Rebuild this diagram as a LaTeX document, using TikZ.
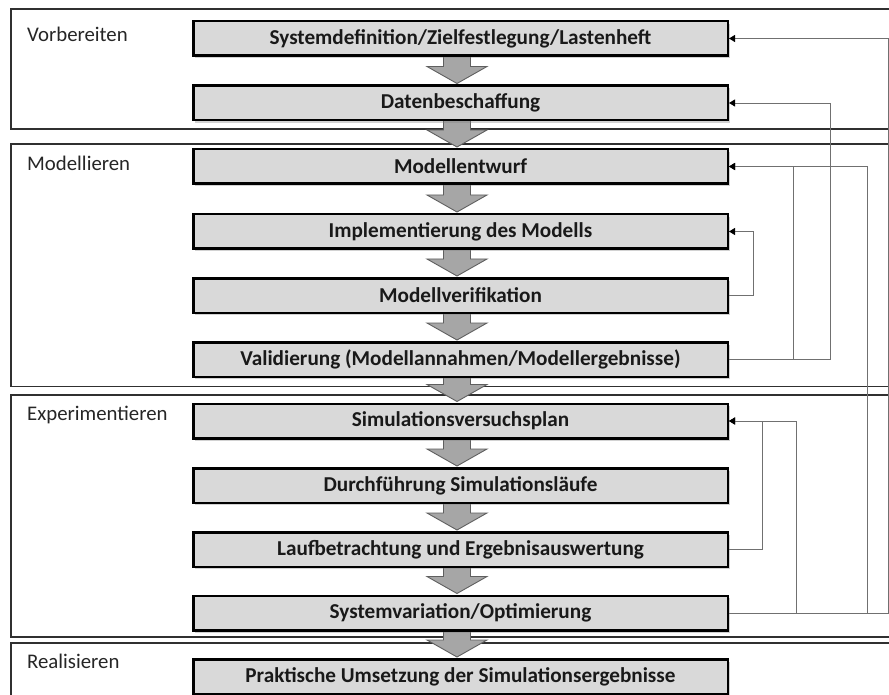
\documentclass[tikz,border=0pt]{standalone}
\usepackage{fontspec}
\setmainfont{Carlito}
\usetikzlibrary{shadows,arrows.meta,calc}
\definecolor{boxfill}{HTML}{D9D9D9}
\definecolor{arrfill}{HTML}{A6A6A6}
\definecolor{arrdraw}{HTML}{5F5F5F}
\definecolor{fbline}{HTML}{707070}
\definecolor{grpline}{HTML}{303030}
\pgfdeclarelayer{background}
\pgfsetlayers{background,main}
\newcommand\blockarr[2]{%
  \path[blk] let \p1=(#1.south), \p2=(#2.north) in
    ({\x1-17pt},{\y1+1pt}) -- ({\x1-17pt},{\y2+18pt}) -- ({\x1-33.5pt},{\y2+18pt}) --
    ({\x1-3.5pt},{\y2+1pt}) -- ({\x1+26.5pt},{\y2+18pt}) -- ({\x1+10pt},{\y2+18pt}) --
    ({\x1+10pt},{\y1+1pt}) -- cycle;}
\begin{document}
\begin{tikzpicture}[x=1pt,y=-1pt,
  stepbox/.style={draw=black, line width=2.5pt, fill=boxfill, minimum width=534.5pt,
    minimum height=34.5pt, inner sep=0pt, font=\fontsize{21.2}{24}\selectfont\bfseries,
    text=black!90, drop shadow={shadow xshift=2pt, shadow yshift=-2.5pt, opacity=0.35}},
  grp/.style={draw=grpline, line width=1.3pt},
  glabel/.style={anchor=base west, inner sep=0pt, font=\fontsize{20.8}{24}\selectfont, text=black!85},
  fb/.style={draw=fbline, line width=0.9pt},
  fbarrow/.style={fb, -{Triangle[length=6pt,width=7pt,color=black]}},
  blk/.style={fill=arrfill, draw=arrdraw, line width=0.9pt}]

\useasboundingbox (0,0) rectangle (889,695);

% process steps
\node[stepbox] (b1) at (460.5,38.5) {Systemdefinition/Zielfestlegung/Lastenheft};
\node[stepbox] (b2) at (460.5,103) {Datenbeschaffung};
\node[stepbox] (b3) at (460.5,166.5) {Modellentwurf};
\node[stepbox] (b4) at (460.5,231.5) {Implementierung des Modells};
\node[stepbox] (b5) at (460.5,295.5) {Modellverifikation};
\node[stepbox] (b6) at (460.5,359.5) {Validierung (Modellannahmen/Modellergebnisse)};
\node[stepbox] (b7) at (460.5,421) {Simulationsversuchsplan};
\node[stepbox] (b8) at (460.5,485.5) {Durchführung Simulationsläufe};
\node[stepbox] (b9) at (460.5,549.5) {Laufbetrachtung und Ergebnisauswertung};
\node[stepbox] (b10) at (460.5,613) {Systemvariation/Optimierung};
\node[stepbox] (b11) at (460.5,676.5) {Praktische Umsetzung der Simulationsergebnisse};

% group labels
\node[glabel] (l1) at (27,42) {Vorbereiten};
\node[glabel] (l2) at (27,171) {Modellieren};
\node[glabel] (l3) at (27,420) {Experimentieren};
\node[glabel] (l4) at (27,668) {Realisieren};

\begin{pgfonlayer}{background}
  \fill[white] (0,0) rectangle (889,695);
  \draw[grp] (890,9) -- (11,9) -- (11,129) -- (890,129);
  \draw[grp] (890,144) -- (11,144) -- (11,386.5) -- (890,386.5);
  \draw[grp] (890,395) -- (11,395) -- (11,637) -- (890,637);
  \draw[grp] (890,643) -- (11,643) -- (11,696);
  \blockarr{b1}{b2}
  \blockarr{b2}{b3}
  \blockarr{b3}{b4}
  \blockarr{b4}{b5}
  \blockarr{b5}{b6}
  \blockarr{b6}{b7}
  \blockarr{b7}{b8}
  \blockarr{b8}{b9}
  \blockarr{b9}{b10}
  \blockarr{b10}{b11}
\end{pgfonlayer}

% feedback loops
\coordinate (k753) at (753,0);
\coordinate (k762) at (762,0);
\coordinate (k793) at (793,0);
\coordinate (k796) at (796,0);
\coordinate (k830) at (830,0);
\coordinate (k867) at (867,0);
\coordinate (k888) at (888,0);
\draw[fbarrow] (b5.east) -- (b5.east -| k753) |- (b4.east);
\draw[fbarrow] (b6.east) -- (b6.east -| k793) |- (b3.east);
\draw[fbarrow] (b6.east) -- (b6.east -| k830) |- (b2.east);
\draw[fbarrow] (b9.east) -- (b9.east -| k762) |- (b7.east);
\draw[fbarrow] (b10.east) -- (b10.east -| k796) |- (b7.east);
\draw[fbarrow] (b10.east) -- (b10.east -| k867) |- (b3.east);
\draw[fbarrow] (b10.east) -- (b10.east -| k888) |- (b1.east);
\end{tikzpicture}
\end{document}
